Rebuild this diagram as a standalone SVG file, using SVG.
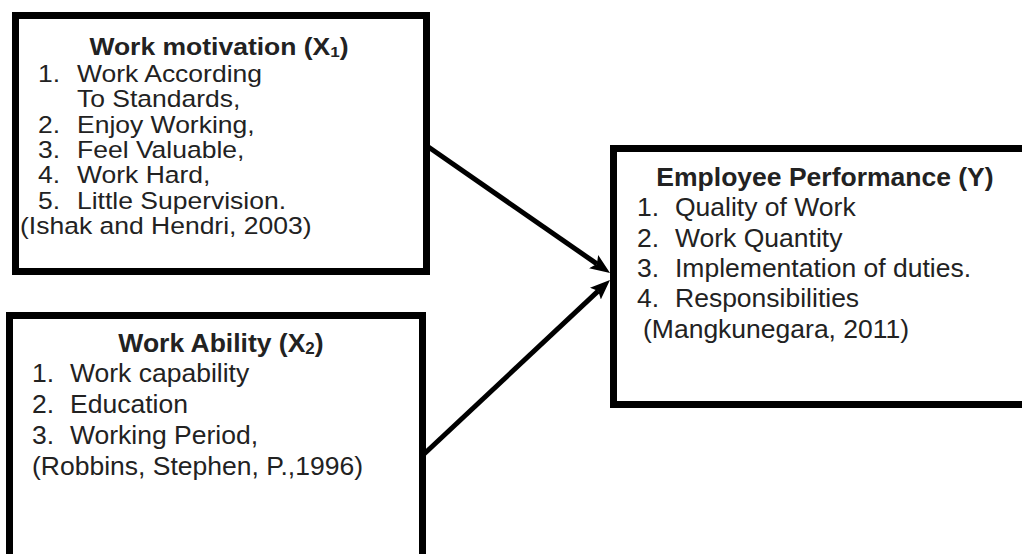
<svg xmlns="http://www.w3.org/2000/svg" width="1022" height="554" viewBox="0 0 1022 554">
<style>
.box{fill:#fff;stroke:#000;stroke-width:7}
.t{font-family:"Liberation Sans",Arial,sans-serif;font-size:26.5px;fill:#222}
.b{font-weight:bold;text-anchor:middle}
.sub{font-size:17px}
.conn{stroke:#000;stroke-width:5;fill:none;marker-end:url(#ah)}
</style>
<defs>
<marker id="ah" viewBox="0 0 10 8" markerWidth="4" markerHeight="3.2" refX="2" refY="4" orient="auto" markerUnits="strokeWidth">
<path d="M0,0 L10,4 L0,8 L2,4 z" fill="#000"/>
</marker>
</defs>
<rect width="1022" height="554" fill="#fff"/>
<g id="connectors">
<line class="conn" x1="427" y1="146" x2="596.9" y2="263.9"/>
<line class="conn" x1="423" y1="455" x2="598.3" y2="290.9"/>
</g>
<g id="x1">
<rect class="box" x="15.5" y="15.5" width="411" height="256"/>
<g transform="translate(0,55) scale(1,0.87)">
<text class="t b" x="219" y="0">Work motivation (X<tspan class="sub" dy="2">1</tspan><tspan dy="-2">)</tspan></text>
<text class="t" x="38" y="30.5">1.</text><text class="t" x="77" y="30.5">Work According</text>
<text class="t" x="77" y="59.8">To Standards,</text>
<text class="t" x="38" y="89.1">2.</text><text class="t" x="77" y="89.1">Enjoy Working,</text>
<text class="t" x="38" y="118.4">3.</text><text class="t" x="77" y="118.4">Feel Valuable,</text>
<text class="t" x="38" y="147.7">4.</text><text class="t" x="77" y="147.7">Work Hard,</text>
<text class="t" x="38" y="177">5.</text><text class="t" x="77" y="177">Little Supervision.</text>
<text class="t" x="20" y="206.3">(Ishak and Hendri, 2003)</text>
</g>
</g>
<g id="x2">
<rect class="box" x="9.5" y="315.5" width="413" height="300"/>
<text class="t b" x="221" y="352">Work Ability (X<tspan class="sub" dy="2">2</tspan><tspan dy="-2">)</tspan></text>
<text class="t" x="32" y="382">1.</text><text class="t" x="70" y="382">Work capability</text>
<text class="t" x="32" y="413">2.</text><text class="t" x="70" y="413">Education</text>
<text class="t" x="32" y="444">3.</text><text class="t" x="70" y="444">Working Period,</text>
<text class="t" x="32" y="475">(Robbins, Stephen, P.,1996)</text>
</g>
<g id="y">
<rect class="box" x="613.5" y="148.5" width="420" height="256"/>
<text class="t b" x="825" y="186">Employee Performance (Y)</text>
<text class="t" x="637" y="216">1.</text><text class="t" x="675" y="216">Quality of Work</text>
<text class="t" x="637" y="247">2.</text><text class="t" x="675" y="247">Work Quantity</text>
<text class="t" x="637" y="277">3.</text><text class="t" x="675" y="277">Implementation of duties.</text>
<text class="t" x="637" y="307">4.</text><text class="t" x="675" y="307">Responsibilities</text>
<text class="t" x="643" y="338">(Mangkunegara, 2011)</text>
</g>
</svg>
